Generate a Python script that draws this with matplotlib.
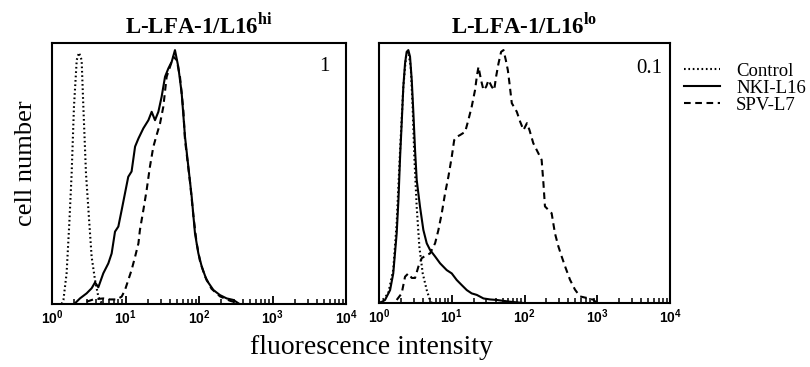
import math
import matplotlib
matplotlib.use("Agg")
import matplotlib.pyplot as plt
from matplotlib.ticker import LogLocator, FuncFormatter, NullFormatter

plt.rcParams['font.family'] = ['Liberation Serif', 'DejaVu Serif']
plt.rcParams['mathtext.fontset'] = 'custom'
plt.rcParams['mathtext.sf'] = 'Liberation Sans:bold'
plt.rcParams['mathtext.bf'] = 'Liberation Serif:bold'
plt.rcParams['mathtext.rm'] = 'Liberation Serif'

# ---------------- data (fluorescence intensity, relative cell number) ----------------
titles = ["L-LFA-1/L16", "L-LFA-1/L16"]
title_sup = ["hi", "lo"]
corner_values = ["1", "0.1"]
series_names = ["Control", "NKI-L16", "SPV-L7"]

# Left panel (L16 hi)
hi_control_x = [1.35, 1.43, 1.58, 1.72, 1.85, 1.99, 2.17, 2.33, 2.53, 2.67, 2.90, 3.22, 3.46,
                3.85, 4.27, 4.74]
hi_control_y = [0, 1.6, 12.1, 31.8, 51.4, 77.7, 96.1, 99.0, 96.1, 77.7, 51.4, 31.8, 18.6,
                9.4, 2.9, 0.3]

hi_nki_x = [2.06, 2.40, 2.96, 3.46, 3.85, 4.27, 4.99, 5.84, 6.48, 7.20, 7.99, 8.87, 9.84, 10.9,
            12.1, 13.5, 15.0, 17.5, 20.5, 22.7, 25.2, 28.0, 31.0, 34.5, 38.3, 42.5, 47.1, 52.3,
            58.1, 64.5, 71.6, 79.5, 88.2, 97.9, 109, 127, 157, 193, 238, 293, 343]
hi_nki_y = [0.3, 2.2, 4.2, 6.2, 8.5, 6.6, 12.1, 16.0, 19.9, 28.5, 30.5, 37.0, 43.6, 50.1,
            52.2, 62.0, 65.2, 69.2, 72.4, 75.7, 72.4, 75.7, 81.6, 89.5, 92.8, 95.4, 100, 93.4,
            83.1, 65.9, 54.1, 42.3, 27.8, 20.0, 14.7, 9.4, 5.5, 3.5, 2.2, 1.6, 0.3]

hi_spv_x = [2.96, 3.65, 4.99, 6.15, 7.58, 8.87, 9.84, 10.9, 12.1, 13.5, 15.0, 15.7, 17.5, 19.4,
            21.5, 23.9, 26.5, 29.5, 32.7, 36.3, 40.3, 44.8, 49.7, 55.1, 61.2, 64.5, 75.5, 83.7,
            92.9, 103, 120, 148, 193, 263, 343]
hi_spv_y = [0.9, 1.8, 2.2, 1.8, 1.8, 2.9, 5.5, 9.4, 13.4, 18.6, 23.9, 29.1, 37.0, 44.9,
            54.1, 61.9, 66.5, 71.1, 77.7, 89.5, 93.4, 97.4, 96.1, 89.5, 76.4, 64.6, 48.0, 35.0,
            24.0, 17.0, 11.0, 6.0, 3.0, 1.3, 0.3]

# Right panel (L16 lo)
lo_control_x = [1.03, 1.34, 1.57, 1.75, 1.95, 2.16, 2.35, 2.53, 2.73, 2.90, 3.06, 3.30, 3.59,
                3.99, 4.53, 4.93, 5.31]
lo_control_y = [0, 3.8, 13.1, 31.6, 60.5, 85.5, 97.4, 99.3, 93.4, 77.6, 57.8, 37.9, 22.1,
                11.7, 5.1, 1.8, 0]

lo_nki_x = [1.03, 1.21, 1.42, 1.57, 1.75, 1.85, 1.95, 2.05, 2.16, 2.28, 2.40, 2.53, 2.67, 2.82,
            2.97, 3.13, 3.30, 3.66, 4.07, 4.53, 5.03, 5.90, 6.91, 8.53, 10.0, 11.7, 13.7, 16.1,
            18.8, 22.1, 27.3, 33.7, 41.6, 63.5, 96.9]
lo_nki_y = [0, 1.2, 5.1, 11.7, 27.5, 40.8, 57.8, 71.0, 85.5, 94.7, 99.3, 100, 97.4, 88.1,
            75.0, 60.5, 48.6, 38.1, 28.9, 23.6, 21.0, 18.4, 15.7, 13.0, 11.7, 9.1, 7.1, 5.1,
            3.8, 3.2, 1.8, 1.4, 1.2, 0.5, 0]

lo_spv_x = [1.75, 2.05, 2.28, 2.53, 2.82, 3.13, 3.48, 3.86, 4.30, 5.03, 5.90, 6.56, 7.28, 8.09,
            9.00, 10.0, 10.8, 11.7, 13.0, 15.3, 16.9, 18.8, 20.9, 22.1, 23.3, 25.3, 27.3, 29.7,
            32.0, 35.5, 38.3, 40.7, 43.9, 47.7, 51.4, 55.4, 59.0, 62.2, 66.9, 78.4, 87.1, 96.9,
            108, 117, 132, 155, 172, 182, 191, 213, 236, 262, 292, 324, 361, 422, 494, 579,
            716, 884, 982]
lo_spv_y = [1.2, 3.8, 10.4, 11.7, 9.9, 9.9, 14.4, 17.7, 18.6, 19.6, 23.6, 28.9, 35.4, 43.3,
            50.0, 57.8, 64.4, 65.7, 66.4, 67.7, 72.3, 77.6, 84.2, 89.5, 93.4, 88.1, 84.2, 85.5,
            88.1, 85.5, 84.2, 89.5, 94.7, 99.3, 100, 96.0, 92.1, 86.8, 79.0, 75.6, 71.7, 68.4,
            71.1, 68.4, 63.2, 59.2, 56.6, 47.4, 38.2, 36.8, 35.5, 27.6, 22.4, 18.4, 14.5, 9.2,
            5.3, 2.6, 2.0, 1.3, 0]

panels = [
    (hi_control_x, hi_control_y, hi_nki_x, hi_nki_y, hi_spv_x, hi_spv_y),
    (lo_control_x, lo_control_y, lo_nki_x, lo_nki_y, lo_spv_x, lo_spv_y),
]

# ---------------- figure ----------------
fig = plt.figure(figsize=(8.1, 3.67), dpi=100)
ax_rects = [[52 / 810, 63 / 367, 294 / 810, 261 / 367],
            [379 / 810, 64 / 367, 291 / 810, 260 / 367]]
corner_pos = [(0.945, 0.945), (0.972, 0.94)]

lw = 1.5
for i, (rect, data) in enumerate(zip(ax_rects, panels)):
    ax = fig.add_axes(rect)
    cx, cy, nx, ny, sx, sy = data
    l1, = ax.plot(cx, cy, color='black', lw=lw, linestyle=(0, (0.8, 1.3)), label=series_names[0])
    l2, = ax.plot(nx, ny, color='black', lw=lw, linestyle='-', label=series_names[1])
    l3, = ax.plot(sx, sy, color='black', lw=lw, linestyle=(0, (3.2, 2.2)), label=series_names[2])
    ax.set_xscale('log')
    ax.set_xlim(1, 1e4)
    ax.set_ylim(0, 102.8)
    ax.set_yticks([])
    for sp in ax.spines.values():
        sp.set_linewidth(1.5)
    ax.xaxis.set_major_locator(LogLocator(base=10, numticks=10))
    ax.xaxis.set_minor_locator(LogLocator(base=10, subs=range(2, 10), numticks=100))
    ax.xaxis.set_major_formatter(FuncFormatter(lambda v, p: r"$\mathsf{10^{%d}}$" % round(math.log10(v))))
    ax.xaxis.set_minor_formatter(NullFormatter())
    ax.tick_params(axis='x', which='major', direction='in', length=6, width=1.3, labelsize=10, pad=3)
    ax.tick_params(axis='x', which='minor', direction='in', length=3.5, width=1.1)
    ax.set_title(titles[i] + r"$^{\mathbf{" + title_sup[i] + "}}$", fontsize=16.5,
                 fontweight='bold', pad=7)
    ax.text(corner_pos[i][0], corner_pos[i][1], corner_values[i], transform=ax.transAxes,
            ha='right', va='top', fontsize=15)
    if i == 0:
        ax.set_ylabel("cell number", fontsize=19)
        ax.yaxis.set_label_coords(-0.05, 0.538)
    else:
        ax.legend(handles=[l1, l2, l3], loc='upper left', bbox_to_anchor=(1.047, 0.925),
                  frameon=False, fontsize=13.5, handlelength=1.95, handletextpad=0.85,
                  labelspacing=0.0, borderaxespad=0, borderpad=0)

fig.text(371 / 810, 1 - 354 / 367, "fluorescence intensity", ha='center', va='baseline', fontsize=20)

fig.savefig("out.png", dpi=100)
